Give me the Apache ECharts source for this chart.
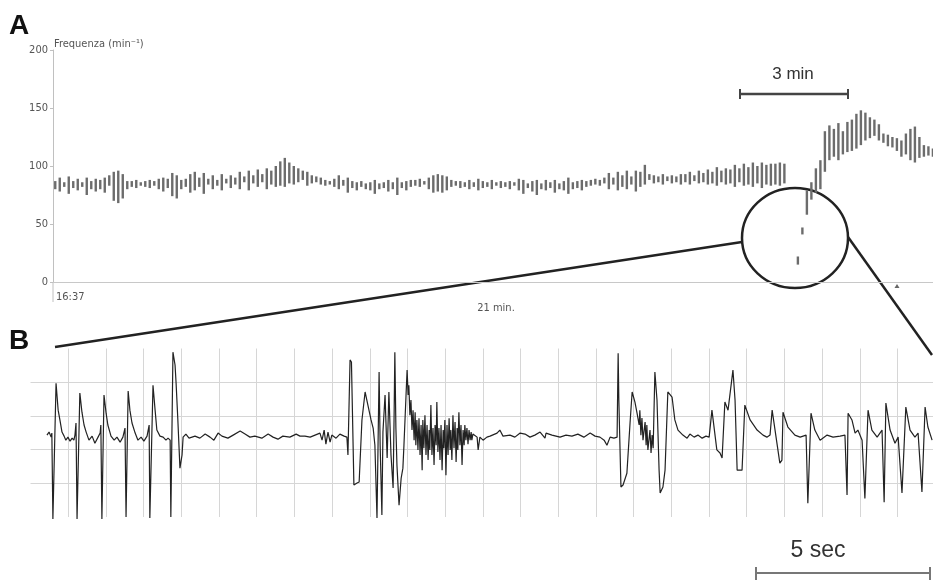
<!DOCTYPE html>
<html>
<head>
<meta charset="utf-8">
<script src="https://cdn.jsdelivr.net/npm/echarts@6/dist/echarts.min.js"></script>
<style>
html,body{margin:0;padding:0;background:#fff;}
#chart{width:933px;height:583px;}
</style>
</head>
<body>
<div id="chart"></div>
<script>
// ---------- Panel A: heart-rate trend (range bars per 7.5 s bin) ----------
const binMinutes = 0.125;
const hrLow = [
  80,78,82,76,81,79,82,75,80,78,
  80,77,83,70,68,72,80,82,81,83,
  82,81,83,80,78,81,74,72,80,82,
  77,79,82,76,84,80,83,79,85,81,
  84,80,86,79,85,82,86,80,84,82,
  83,82,85,84,86,88,83,85,86,84,
  83,84,82,80,83,77,81,79,82,80,
  79,76,80,81,78,80,75,81,79,82,
  83,82,84,80,77,78,77,79,82,83,
  81,82,80,82,79,81,82,80,83,81,
  82,80,83,79,76,81,78,75,80,79,
  81,77,80,79,76,80,81,79,82,83,
  84,83,85,80,84,79,82,80,84,78,
  82,84,88,85,86,84,87,85,86,84,
  86,84,87,85,86,84,85,83,86,84,
  85,82,86,83,84,82,85,81,84,83,
  84,83,85,null,null,15,41,58,71,77,
  80,95,105,108,105,110,112,113,115,118,
  122,124,126,122,120,117,116,113,108,110,
  105,103,107,108,109,108
];
const hrHigh = [
  87,90,86,91,87,89,86,90,87,89,
  88,90,92,95,96,93,87,87,88,86,
  87,88,87,89,90,89,94,92,88,89,
  93,95,90,94,89,92,88,93,89,92,
  90,95,91,96,92,97,93,98,96,100,
  104,107,103,100,98,96,95,92,91,90,
  88,87,89,92,88,90,87,86,87,85,
  86,88,85,86,88,86,90,86,87,88,
  88,89,87,90,92,93,92,91,88,87,
  87,86,88,86,89,87,86,88,86,87,
  86,87,86,89,88,85,87,88,85,88,
  86,88,85,87,90,86,87,88,87,88,
  89,88,90,94,90,95,92,96,91,96,
  95,101,93,92,91,93,91,92,91,93,
  93,95,92,96,94,97,95,99,96,98,
  97,101,98,102,99,103,100,103,101,102,
  102,103,102,null,null,22,47,79,86,98,
  105,130,135,132,137,130,138,140,145,148,
  146,142,140,136,128,127,125,124,122,128,
  132,134,125,118,117,115
];
const hrTicks = [0, 50, 100, 150, 200];

// ---------- Panel B: ECG strip [seconds, mV] ----------
const ecgSinus = [
  [0.47,0.43],[0.53,0.52],[0.59,0.37],[0.61,0.49],[0.64,-2.06],[0.73,1.97],[0.79,1.17],[0.84,0.88],[0.90,0.52],[0.96,0.40],[1.01,0.28],[1.07,0.37],[1.13,0.25],[1.19,0.34],[1.24,0.28],
  [1.27,0.43],[1.30,0.79],[1.33,-2.06],[1.41,1.68],[1.47,1.11],[1.53,0.73],[1.59,0.52],[1.67,0.28],[1.76,0.40],[1.84,0.19],[1.93,0.37],[1.99,0.49],
  [2.01,0.73],[2.04,-2.06],[2.10,1.62],[2.16,1.08],[2.21,0.73],[2.30,0.40],[2.39,0.28],[2.47,0.37],[2.56,0.22],[2.64,0.37],[2.70,0.64],
  [2.73,-2.00],[2.79,1.74],[2.84,1.17],[2.90,0.79],[2.99,0.49],[3.07,0.28],[3.16,0.37],[3.24,0.25],[3.33,0.40],[3.39,0.73],
  [3.41,-2.03],[3.50,1.91],[3.56,1.17],[3.61,0.58],[3.70,0.40],[3.79,0.37],[3.87,0.28],[3.93,0.34],
  [3.99,0.28],[4.01,-2.00],[4.07,2.89],[4.13,2.51],[4.16,1.97],[4.21,0.88],[4.27,-0.55],[4.33,-0.16],[4.36,0.37],[4.44,0.46],[4.53,0.34]
];
const ecgPause = [
  [4.70,0.40],[4.84,0.34],[4.99,0.46],[5.13,0.37],[5.24,0.28],[5.36,0.49],[5.47,0.40],[5.64,0.34],[5.79,0.43],[5.99,0.55],[6.13,0.46],[6.27,0.37],[6.41,0.40],[6.61,0.34],[6.79,0.46],[6.93,0.37],[7.07,0.31],[7.21,0.40],[7.41,0.37],[7.59,0.46],[7.70,0.40],[7.84,0.40],[7.99,0.37],[8.13,0.43],[8.27,0.49],[8.33,0.28],[8.39,0.58],[8.44,0.16],[8.50,0.52],[8.56,0.22],[8.61,0.43],[8.73,0.34],[8.84,0.46],[8.96,0.40],[9.01,0.37]
];
const ecgArtifact = [
  [9.04,0.37],[9.07,-0.16],[9.13,2.66],[9.17,2.60],[9.24,-1.05],[9.33,-0.99],[9.39,-0.96],[9.47,0.88],[9.56,1.71],[9.64,1.32],[9.73,0.88],[9.79,0.64],
  [9.84,0.13],[9.90,-2.03],[9.93,0.13],[9.96,2.30],[9.99,0.13],[10.04,-1.94],[10.07,0.52],[10.13,1.62],[10.19,-0.25],[10.24,1.71],[10.30,-0.16],[10.36,-1.14],[10.39,1.11],[10.41,2.89],[10.44,0.64],[10.47,-0.46],[10.53,-1.65],[10.59,-0.85],[10.64,-0.55],[10.67,0.13],[10.73,1.62],
  [10.76,2.36],[10.79,1.62],[10.81,1.91],[10.84,1.02],[10.87,1.47],[10.90,0.58],[10.93,1.17],[10.96,0.28],[10.99,1.11],[11.01,0.13],[11.04,0.88],[11.07,-0.01],[11.10,0.93],[11.13,-0.16],[11.16,0.73],[11.19,-0.61],[11.21,0.88],[11.24,0.04],[11.27,1.02],[11.30,-0.16],[11.33,0.73],[11.36,-0.31],[11.39,0.58],[11.41,-0.01],
  [11.44,1.32],[11.47,-0.16],[11.50,0.64],[11.53,-0.46],[11.56,0.73],[11.59,0.13],[11.61,1.41],[11.64,-0.07],[11.67,0.64],[11.70,-0.31],[11.73,0.73],[11.76,-0.61],[11.79,0.58],[11.81,0.04],[11.84,0.88],[11.87,-0.76],[11.90,0.73],[11.93,-0.16],[11.96,0.93],[11.99,-0.01],
  [12.01,0.58],[12.04,-0.31],[12.07,1.02],[12.10,0.04],[12.13,0.82],[12.16,-0.37],[12.19,0.64],[12.21,-0.01],[12.24,1.11],[12.27,0.13],[12.30,0.73],[12.33,-0.46],[12.36,0.58],[12.39,0.13],[12.41,0.73],[12.44,0.28],[12.47,0.64],[12.50,0.16],[12.53,0.58],[12.56,0.28],[12.59,0.52],[12.61,0.28],[12.64,0.46],
  [12.76,0.37],[12.79,-0.01],[12.84,0.37],[12.93,0.28],[13.04,0.37]
];
const ecgBaseline = [
  [13.13,0.40],[13.33,0.49],[13.41,0.58],[13.50,0.40],[13.70,0.43],[13.84,0.37],[13.99,0.49],[14.13,0.46],[14.27,0.37],[14.41,0.43],[14.56,0.52],[14.70,0.34],[14.73,0.49],[14.90,0.43],[15.13,0.37],[15.30,0.43],[15.47,0.40],[15.64,0.46],[15.81,0.37],[15.99,0.49],[16.13,0.40],[16.27,0.37],[16.39,0.28],[16.47,0.13],[16.56,0.37],[16.67,0.34],[16.76,0.37]
];
const ecgRecovery = [
  [16.79,2.86],[16.81,1.47],[16.87,-1.11],[16.93,-1.05],[17.04,-0.70],[17.13,0.79],[17.19,1.71],[17.27,1.41],[17.33,1.08],[17.39,0.73],[17.41,1.17],[17.44,0.43],[17.47,0.94],[17.50,0.28],[17.56,0.82],[17.59,0.13],[17.61,0.73],[17.64,-0.01],[17.70,0.58],[17.73,-0.10],[17.76,0.43],[17.79,0.04],
  [17.84,2.30],[17.90,1.47],[17.96,-0.61],[17.99,-1.29],[18.07,-1.11],[18.13,-0.61],[18.21,1.71],[18.33,1.56],[18.41,0.88],[18.50,0.58],[18.64,0.43],[18.76,0.34],[18.84,0.46],[18.96,0.37],[19.07,0.43],[19.19,0.34],[19.30,0.40],[19.39,0.37]
];
const ecgRun = [
  [19.47,1.17],[19.61,-0.01],[19.70,-0.10],[19.76,-0.25],[19.84,1.41],[19.93,1.17],[20.07,2.36],[20.13,1.47],[20.19,-0.61],[20.33,-0.61],[20.41,1.32],[20.56,0.88],[20.76,0.58],[20.93,0.43],[21.04,0.37],[21.13,0.43],
  [21.19,1.17],[21.41,-0.40],[21.47,-0.31],[21.50,1.11],[21.64,0.67],[21.84,0.43],[21.99,0.37],[22.16,0.43],
  [22.21,-1.59],[22.30,1.08],[22.41,0.58],[22.56,0.28],[22.76,0.43],[22.93,0.37],[23.13,0.40],[23.27,0.43],
  [23.33,-1.35],[23.36,1.08],[23.47,0.88],[23.56,0.49],[23.64,0.58],[23.76,0.28],
  [23.84,-1.45],[23.93,1.17],[24.04,0.58],[24.19,0.37],[24.33,0.58],
  [24.39,-1.56],[24.44,1.38],[24.56,0.58],[24.70,0.19],[24.79,0.37],
  [24.90,-1.29],[25.01,1.26],[25.13,0.58],[25.27,0.37],[25.36,0.49],
  [25.47,-1.26],[25.56,1.26],[25.64,0.67],[25.76,0.28]
];

// ---------- build ----------
const narrow = "'Liberation Sans Narrow','DejaVu Sans Condensed','Roboto Condensed',sans-serif";
const hrData = hrLow.map((lo, i) => [(i + 0.5) * binMinutes, lo, hrHigh[i]]);
const ecgData = [].concat(ecgSinus, ecgPause, ecgArtifact, ecgBaseline, ecgRecovery, ecgRun);

const chart = echarts.init(document.getElementById('chart'), null, {renderer: 'canvas'});
chart.setOption({
  animation: false,
  backgroundColor: '#fff',
  grid: [
    {left: 53, right: 0, top: 50, height: 232},
    {left: 30.5, right: 0, top: 348.5, height: 168.5}
  ],
  xAxis: [
    {gridIndex: 0, type: 'value', min: 0, max: 24.44,
     axisLine: {show: true, lineStyle: {color: '#c8c8c8', width: 1}},
     axisTick: {show: false}, axisLabel: {show: false}, splitLine: {show: false}},
    {gridIndex: 1, type: 'value', min: 0, max: 25.786, interval: 1.077,
     axisLine: {show: false}, axisTick: {show: false}, axisLabel: {show: false},
     splitLine: {show: true, showMinLine: false, showMaxLine: false, lineStyle: {color: '#d6d6d6', width: 1}}}
  ],
  yAxis: [
    {gridIndex: 0, type: 'value', min: hrTicks[0], max: hrTicks[hrTicks.length - 1], interval: 50,
     axisLine: {show: true, lineStyle: {color: '#c0c0c0', width: 1}},
     axisTick: {show: true, length: 3, lineStyle: {color: '#c0c0c0'}},
     axisLabel: {color: '#555', fontSize: 11, margin: 5, fontFamily: narrow},
     splitLine: {show: false}},
    {gridIndex: 1, type: 'value', min: -2, max: 3, interval: 1,
     axisLine: {show: false}, axisTick: {show: false}, axisLabel: {show: false},
     splitLine: {show: true, showMinLine: false, showMaxLine: false, lineStyle: {color: '#d6d6d6', width: 1}}}
  ],
  series: [
    {
      type: 'custom', xAxisIndex: 0, yAxisIndex: 0, data: hrData,
      renderItem: function (params, api) {
        const lo = api.value(1), hi = api.value(2);
        if (lo == null || hi == null || isNaN(lo) || isNaN(hi)) return null;
        const top = api.coord([api.value(0), hi]);
        const bot = api.coord([api.value(0), lo]);
        return {type: 'rect', shape: {x: top[0] - 1.2, y: top[1], width: 2.4, height: Math.max(1, bot[1] - top[1])},
                style: {fill: '#6c6c6c'}};
      }
    },
    {
      type: 'line', xAxisIndex: 1, yAxisIndex: 1, data: ecgData,
      showSymbol: false, clip: false,
      lineStyle: {color: '#222', width: 1.2}
    }
  ],
  graphic: [
    {type: 'text', style: {text: 'A', x: 9, y: 26, font: 'bold 28px "Liberation Sans", Arial, sans-serif', fill: '#111', textVerticalAlign: 'middle', verticalAlign: 'middle'}},
    {type: 'text', style: {text: 'B', x: 9, y: 341, font: 'bold 28px "Liberation Sans", Arial, sans-serif', fill: '#111', textVerticalAlign: 'middle', verticalAlign: 'middle'}},
    {type: 'text', style: {text: 'Frequenza (min⁻¹)', x: 54, y: 44, font: '11px ' + narrow, fill: '#555', textVerticalAlign: 'middle', verticalAlign: 'middle'}},
    {type: 'text', style: {text: '16:37', x: 56, y: 297, font: '11px ' + narrow, fill: '#555', textVerticalAlign: 'middle', verticalAlign: 'middle'}},
    {type: 'line', shape: {x1: 53, y1: 283, x2: 53, y2: 302}, style: {stroke: '#c0c0c0', lineWidth: 1}},
    {type: 'text', style: {text: '21 min.', x: 496, y: 308, font: '11px ' + narrow, fill: '#555', textAlign: 'center', align: 'center', textVerticalAlign: 'middle', verticalAlign: 'middle'}},
    {type: 'polygon', shape: {points: [[894.5, 288], [899.5, 288], [897, 284]]}, style: {fill: '#666'}},
    // 3 min scale bar
    {type: 'text', style: {text: '3 min', x: 793, y: 74, font: '17px "Liberation Sans", Arial, sans-serif', fill: '#333', textAlign: 'center', align: 'center', textVerticalAlign: 'middle', verticalAlign: 'middle'}},
    {type: 'line', shape: {x1: 740, y1: 94, x2: 848, y2: 94}, style: {stroke: '#444', lineWidth: 2.5}},
    {type: 'line', shape: {x1: 740, y1: 89, x2: 740, y2: 99}, style: {stroke: '#444', lineWidth: 2}},
    {type: 'line', shape: {x1: 848, y1: 89, x2: 848, y2: 99}, style: {stroke: '#444', lineWidth: 2}},
    // 5 sec scale bar
    {type: 'text', style: {text: '5 sec', x: 818, y: 551, font: '23px "Liberation Sans", Arial, sans-serif', fill: '#333', textAlign: 'center', align: 'center', textVerticalAlign: 'middle', verticalAlign: 'middle'}},
    {type: 'line', shape: {x1: 756, y1: 573, x2: 930, y2: 573}, style: {stroke: '#777', lineWidth: 2}},
    {type: 'line', shape: {x1: 756, y1: 567, x2: 756, y2: 580}, style: {stroke: '#777', lineWidth: 2}},
    {type: 'line', shape: {x1: 930, y1: 567, x2: 930, y2: 580}, style: {stroke: '#777', lineWidth: 2}},
    // magnifier
    {type: 'ellipse', shape: {cx: 795, cy: 238, rx: 53, ry: 50}, style: {fill: null, stroke: '#222', lineWidth: 2.5}},
    {type: 'line', shape: {x1: 55, y1: 347, x2: 742, y2: 242}, style: {stroke: '#222', lineWidth: 2.5}},
    {type: 'line', shape: {x1: 848, y1: 237, x2: 932, y2: 355}, style: {stroke: '#222', lineWidth: 2.5}}
  ]
});
</script>
</body>
</html>
